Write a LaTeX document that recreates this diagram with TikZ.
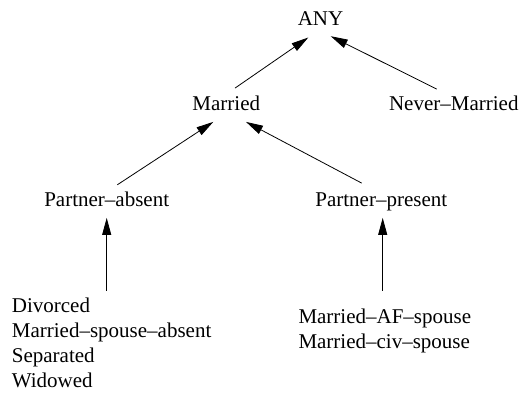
\documentclass[tikz,border=0pt]{standalone}
\usepackage{fontspec}
\setmainfont{Liberation Serif}
\usetikzlibrary{arrows.meta}
\tikzset{
  lbl/.style={inner sep=0pt, anchor=base, text height=14.5pt, text depth=4.5pt, font=\fontsize{21}{25}\selectfont},
  lst/.style={inner sep=0pt, anchor=north west, align=left, font=\fontsize{21}{25}\selectfont},
  arr/.style={line width=0.8pt, -{Triangle[length=17pt,width=9pt]}}
}
\begin{document}
\begin{tikzpicture}[x=1pt,y=-1pt]
\useasboundingbox (0,0) rectangle (520,392);
\node[lbl] (any) at (320.5,25) {ANY};
\node[lbl] (mar) at (226.3,110) {Married};
\node[lbl] (nev) at (453.8,110) {Never–Married};
\node[lbl] (pab) at (106.7,206) {Partner–absent};
\node[lbl] (ppr) at (381.3,206) {Partner–present};
\node[lst] (lab) at (11.7,297.4) {Divorced\\Married–spouse–absent\\Separated\\Widowed};
\node[lst] (lpr) at (298.3,309) {Married–AF–spouse\\Married–civ–spouse};
\draw[arr] ([xshift=8.7pt,yshift=7.2pt]mar.north) -- ([xshift=-12.2pt,yshift=-7.8pt]any.south);
\draw[arr] ([xshift=-17.1pt,yshift=6.2pt]nev.north) -- ([xshift=10.2pt,yshift=-6.5pt]any.south);
\draw[arr] ([xshift=10.6pt,yshift=6.5pt]pab.north) -- ([xshift=-13pt,yshift=-7.2pt]mar.south);
\draw[arr] ([xshift=-19.6pt,yshift=8.2pt]ppr.north) -- ([xshift=19.7pt,yshift=-7.2pt]mar.south);
\draw[arr] (pab.south |- 0,290.7) coordinate (t1) -- ([yshift=-7.2pt]pab.south);
\draw[arr] (382.7,290.7) coordinate (t2) -- ([xshift=1.4pt,yshift=-7.2pt]ppr.south);
\end{tikzpicture}
\end{document}
